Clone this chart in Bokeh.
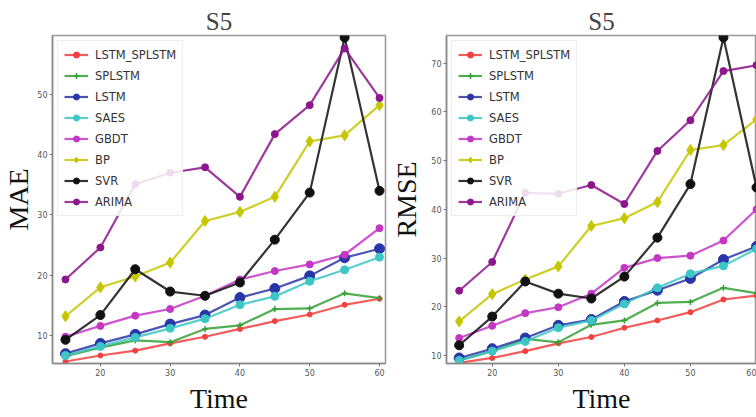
from bokeh.plotting import figure
from bokeh.layouts import row
from bokeh.models import Range1d, FixedTicker
from bokeh.embed import file_html
from bokeh.resources import INLINE

time = [15, 20, 25, 30, 35, 40, 45, 50, 55, 60]
series_names = ["LSTM_SPLSTM", "SPLSTM", "LSTM", "SAES", "GBDT", "BP", "SVR", "ARIMA"]

mae_lstm_splstm = [5.7, 6.7, 7.5, 8.7, 9.8, 11.1, 12.4, 13.5, 15.1, 16.1]
mae_splstm = [6.6, 8.0, 9.2, 8.9, 11.1, 11.7, 14.4, 14.5, 17.0, 16.2]
mae_lstm = [7.0, 8.7, 10.2, 11.9, 13.4, 16.3, 17.8, 19.9, 22.9, 24.4]
mae_saes = [6.7, 8.2, 9.7, 11.2, 12.8, 15.1, 16.5, 19.0, 20.9, 23.0]
mae_gbdt = [9.8, 11.6, 13.3, 14.4, 16.6, 19.3, 20.7, 21.8, 23.4, 27.8]
mae_bp = [13.2, 18.0, 19.8, 22.1, 29.0, 30.5, 33.0, 42.2, 43.2, 48.2]
mae_svr = [9.3, 13.4, 21.0, 17.3, 16.6, 18.8, 25.9, 33.7, 59.4, 34.0]
mae_arima = [19.3, 24.6, 35.1, 37.0, 37.9, 33.0, 43.4, 48.2, 57.6, 49.4]

rmse_lstm_splstm = [8.5, 9.5, 10.9, 12.5, 13.8, 15.7, 17.2, 18.9, 21.5, 22.3]
rmse_splstm = [9.0, 10.9, 13.4, 12.7, 16.3, 17.2, 20.8, 21.0, 23.9, 22.8]
rmse_lstm = [9.5, 11.4, 13.6, 16.2, 17.4, 21.1, 23.4, 25.8, 29.7, 32.4]
rmse_saes = [9.0, 10.9, 12.9, 15.7, 17.2, 20.6, 23.9, 26.8, 28.4, 31.9]
rmse_gbdt = [13.6, 16.1, 18.7, 19.9, 22.7, 28.0, 30.0, 30.5, 33.6, 40.0]
rmse_bp = [17.0, 22.6, 25.6, 28.3, 36.6, 38.2, 41.5, 52.2, 53.2, 58.5]
rmse_svr = [12.1, 18.0, 25.2, 22.7, 21.7, 26.2, 34.2, 45.2, 75.3, 44.5]
rmse_arima = [23.3, 29.2, 43.4, 43.2, 45.0, 41.1, 52.0, 58.3, 68.4, 69.6]

x_ticks = [20, 30, 40, 50, 60]
mae_ticks = [10, 20, 30, 40, 50]
rmse_ticks = [10, 20, 30, 40, 50, 60, 70]

colors = ["#f24040", "#34a034", "#2a36a8", "#3cc6c6", "#c436c4", "#c6c600", "#111111", "#8c168c"]
markers = ["circle", "cross", "circle", "circle", "circle", "diamond", "circle", "circle"]
msizes = [5, 6, 10, 8, 7, 11, 9, 7]

SERIF = "Liberation Serif"
SANS = "DejaVu Sans"


def make_plot(title, ylabel, data, xr, yr, yticks, width, height, bl, br, bt, bb, ylab_standoff):
    p = figure(width=width, height=height, output_backend="svg", toolbar_location=None,
               x_range=Range1d(*xr), y_range=Range1d(*yr),
               min_border_left=bl, min_border_right=br, min_border_top=bt, min_border_bottom=bb)
    p.title.text = title
    p.title.text_font = SERIF
    p.title.text_font_size = "25px"
    p.title.text_font_style = "normal"
    p.title.align = "center"
    p.title.standoff = 2
    p.xgrid.visible = False
    p.ygrid.visible = False
    p.outline_line_color = "#999999"
    p.outline_line_width = 1.5
    for ax in (p.xaxis[0], p.yaxis[0]):
        ax.axis_line_color = "#888888"
        ax.axis_line_width = 1.5
        ax.major_tick_line_color = "#777777"
        ax.major_tick_in = 0
        ax.major_tick_out = 3
        ax.minor_tick_line_color = None
        ax.major_label_text_font = SANS
        ax.major_label_text_font_size = "8px"
        ax.major_label_text_color = "#555555"
        ax.major_label_standoff = 2
        ax.axis_label_text_font = SERIF
        ax.axis_label_text_font_style = "normal"
        ax.axis_label_text_color = "#111111"
    p.xaxis[0].ticker = FixedTicker(ticks=x_ticks)
    p.yaxis[0].ticker = FixedTicker(ticks=yticks)
    p.xaxis[0].axis_label = "Time"
    p.xaxis[0].axis_label_text_font_size = "28px"
    p.xaxis[0].axis_label_standoff = 4
    p.yaxis[0].axis_label = ylabel
    p.yaxis[0].axis_label_text_font_size = "28px"
    p.yaxis[0].axis_label_standoff = ylab_standoff

    for name, vals, c, m, s in zip(series_names, data, colors, markers, msizes):
        p.line(time, vals, line_color=c, line_width=2.2, line_alpha=0.85, legend_label=name)
        if m == "cross":
            p.scatter(time, vals, marker=m, size=s, line_color=c, line_width=1.5, legend_label=name)
        else:
            p.scatter(time, vals, marker=m, size=s, fill_color=c, line_color=c, legend_label=name)

    lg = p.legend[0]
    lg.location = "top_left"
    lg.margin = 5
    lg.padding = 6
    lg.spacing = 6
    lg.glyph_width = 24
    lg.glyph_height = 15
    lg.label_height = 15
    lg.label_standoff = 7
    lg.label_text_font = SANS
    lg.label_text_font_size = "11.5px"
    lg.label_text_color = "#333333"
    lg.border_line_color = "#dddddd"
    lg.border_line_width = 1
    lg.background_fill_alpha = 0.85
    return p


p1 = make_plot("S5", "MAE",
               [mae_lstm_splstm, mae_splstm, mae_lstm, mae_saes, mae_gbdt, mae_bp, mae_svr, mae_arima],
               (13.14, 60.86), (5.37, 59.75), mae_ticks,
               388, 417, 51, 3, 34, 54, 0)
p2 = make_plot("S5", "RMSE",
               [rmse_lstm_splstm, rmse_splstm, rmse_lstm, rmse_saes, rmse_gbdt, rmse_bp, rmse_svr, rmse_arima],
               (13.08, 60.0), (8.36, 75.7), rmse_ticks,
               368, 417, 56, 0, 35, 52, 6)

layout = row(p1, p2)
open("out.html", "w").write(file_html(layout, INLINE))
